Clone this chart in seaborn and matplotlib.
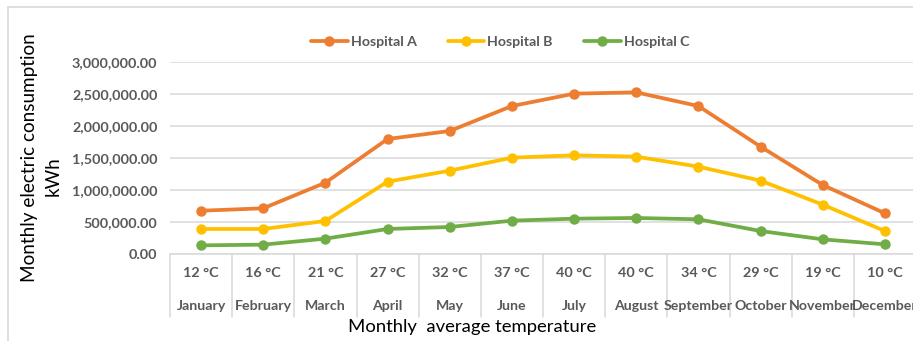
import matplotlib
matplotlib.use("Agg")
import matplotlib.pyplot as plt
import matplotlib.transforms as mtransforms
from matplotlib.lines import Line2D
import seaborn as sns
import pandas as pd

months = ["January", "February", "March", "April", "May", "June", "July",
          "August", "September", "October", "November", "December"]
temps = ["12 °C", "16 °C", "21 °C", "27 °C", "32 °C", "37 °C", "40 °C",
         "40 °C", "34 °C", "29 °C", "19 °C", "10 °C"]
hospital_a = [676000, 714000, 1114000, 1797000, 1922000, 2312000, 2505000,
              2526000, 2312000, 1677000, 1078000, 636000]
hospital_b = [391000, 391000, 516000, 1130000, 1302000, 1505000, 1542000,
              1521000, 1365000, 1146000, 771000, 359000]
hospital_c = [135000, 146000, 240000, 391000, 422000, 521000, 552000,
              563000, 542000, 359000, 229000, 151000]
series_names = ["Hospital A", "Hospital B", "Hospital C"]
colors = ["#ED7D31", "#FFC000", "#70AD47"]
yticks = [0, 500000, 1000000, 1500000, 2000000, 2500000, 3000000]

rows = []
for name, vals in zip(series_names, [hospital_a, hospital_b, hospital_c]):
    for m, v in zip(months, vals):
        rows.append({"month": m, "value": v, "hospital": name})
df = pd.DataFrame(rows)

sns.set_theme(style="white")
plt.rcParams["font.family"] = ["Lato", "DejaVu Sans"]

W, H = 913, 341
fig = plt.figure(figsize=(W / 100, H / 100), dpi=100)
ax = fig.add_axes([170 / W, 1 - 254 / H, (916 - 170) / W, 192 / H])

sns.lineplot(data=df, x="month", y="value", hue="hospital", palette=colors,
             marker="o", markersize=7.5, markeredgewidth=0, linewidth=2.7,
             sort=False, ax=ax, legend=False)

ax.set_xlim(-0.5, 11.5)
ax.set_ylim(0, 3000000)
ax.set_yticks(yticks)
ax.set_yticklabels([f"{v:,.2f}" for v in yticks], fontsize=10.4,
                   fontweight="bold", color="#595959")
ax.tick_params(axis="y", length=0, pad=9)
ax.set_xticks([])
ax.set_xlabel("")
ax.set_ylabel("")
ax.grid(axis="y", color="#D9D9D9", linewidth=1.1)
for s in ["top", "right", "left"]:
    ax.spines[s].set_visible(False)
ax.spines["bottom"].set_color("#D9D9D9")
ax.spines["bottom"].set_linewidth(1.1)

trans = mtransforms.blended_transform_factory(ax.transData, ax.transAxes)
for i in range(len(months) + 1):
    ax.plot([i - 0.5, i - 0.5], [0, -(317 - 254) / 192], transform=trans,
            color="#D9D9D9", linewidth=1.1, clip_on=False)
for i, (t, m) in enumerate(zip(temps, months)):
    ax.text(i, -(273 - 254) / 192, t, transform=trans, ha="center", va="center",
            fontsize=10.4, fontweight="bold", color="#595959")
    ax.text(i, -(306 - 254) / 192, m, transform=trans, ha="center", va="center",
            fontsize=10.2, fontweight="bold", color="#595959")

fig.text(472 / W, 1 - 327 / H, "Monthly  average temperature", ha="center",
         va="center", fontsize=13.3, color="#000000")
fig.text(30 / W, 1 - 158 / H, "Monthly electric consumption", ha="center",
         va="center", rotation=90, fontsize=13.6, color="#000000")
fig.text(53 / W, 1 - 176 / H, "kWh", ha="center", va="center", rotation=90,
         fontsize=13.6, color="#000000")

handles = [Line2D([0], [0], color=c, linewidth=2.7, marker="o", markersize=7.5,
                  markeredgewidth=0) for c in colors]
leg = fig.legend(handles, series_names, loc="center", ncol=3,
                 bbox_to_anchor=(500 / W, 1 - 42 / H), frameon=False,
                 handlelength=2.6, handletextpad=0.2, columnspacing=2.2,
                 prop={"size": 10.2, "weight": "bold"})
for t in leg.get_texts():
    t.set_color("#595959")

fig.add_artist(Line2D([8 / W, 8 / W], [0, 1 - 7 / H], transform=fig.transFigure,
                      color="#D9D9D9", linewidth=1.2))
fig.add_artist(Line2D([8 / W, 1], [1 - 7 / H, 1 - 7 / H], transform=fig.transFigure,
                      color="#D9D9D9", linewidth=1.2))

fig.savefig("out.png", dpi=100)
